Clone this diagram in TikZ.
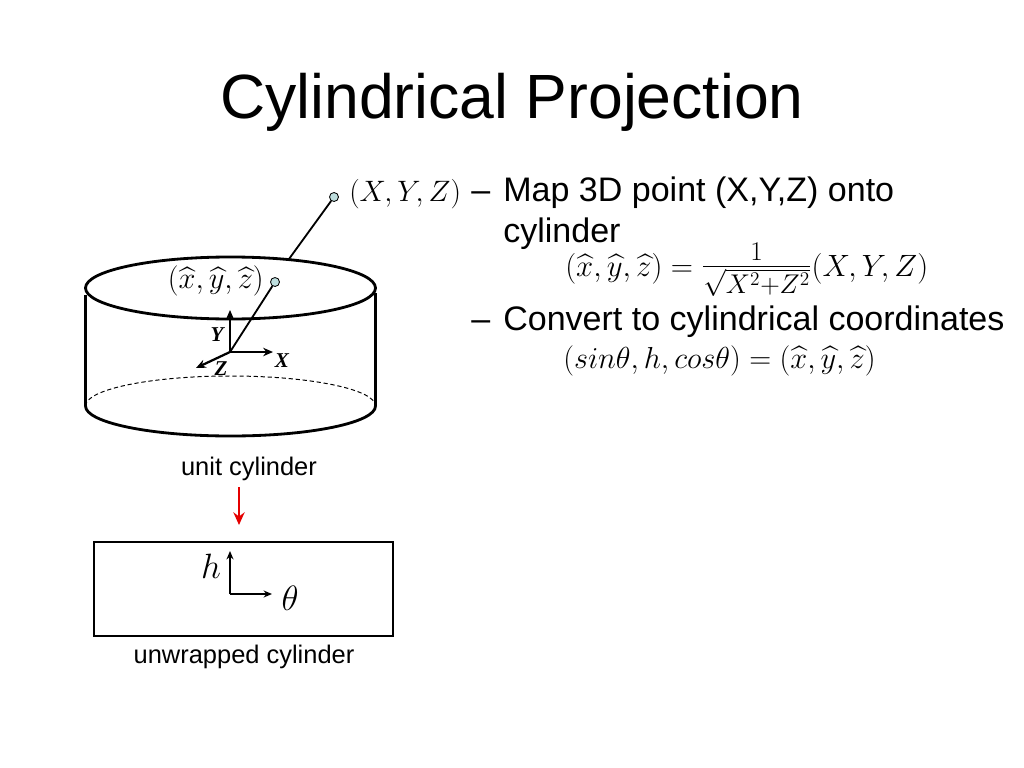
\documentclass[tikz,border=0pt]{standalone}
\usepackage{fix-cm}
\usepackage{amsmath}
\usepackage{fontspec}
\setmainfont{Liberation Sans}
\newfontfamily\axisfont{Liberation Serif}
\usepackage{tikz}
\usepackage{xcolor}
\usetikzlibrary{arrows.meta}
\usetikzlibrary{shapes.geometric}
\definecolor{dotfill}{RGB}{190,222,222}
\tikzset{
  heading/.style={font=\fontsize{44.45}{44}\selectfont,inner sep=0pt,anchor=base west},
  bullet/.style={font=\fontsize{24.2}{24}\selectfont,inner sep=0pt,anchor=base west},
  caption/.style={font=\fontsize{18.1}{18}\selectfont,inner sep=0pt,anchor=base},
  formula/.style={font=\fontsize{21.6}{21}\selectfont,inner sep=0pt,anchor=base west},
  axisname/.style={font=\axisfont\fontsize{15}{15}\selectfont\bfseries\itshape,inner sep=0pt},
  greekname/.style={font=\fontsize{25}{25}\selectfont,inner sep=0pt},
  rim/.style={line width=2pt},
  dot/.style={circle,draw,fill=dotfill,line width=.6pt,minimum size=6.4pt,inner sep=0pt},
  ray/.style={line width=1.3pt},
  axis/.style={line width=1.6pt,-{Stealth[length=7pt,width=6pt]}},
  flatarrow/.style={line width=1pt,-{Stealth[length=6pt,width=5pt]}}
}

\begin{document}
\begin{tikzpicture}[x=.025cm,y=-.025cm]
  \useasboundingbox (0,0) rectangle (1024,768);
  \fill[white] (0,0) rectangle (1024,768);

  \node (title) [heading] at (220,119) {Cylindrical Projection};

  \node (dashone) [bullet] at (471,201) {--};
  \node (mapline) [bullet] at (503,201) {Map 3D point (X,Y,Z) onto};
  \node (cylline) [bullet] at (503,242) {cylinder};
  \node (eqone) [formula,font=\fontsize{21.9}{21}\selectfont] at (565,276) {$(\widehat{x},\widehat{y},\widehat{z})=\mbox{\fontsize{27.5}{27}\selectfont$\frac{1}{\sqrt{X^2{+}Z^2}}$}(X,Y,Z)$};
  \node (dashtwo) [bullet] at (471,330) {--};
  \node (conv) [bullet] at (503,330) {Convert to cylindrical coordinates};
  \node (eqtwo) [formula] at (563,368.5) {$(sin\theta,h,cos\theta)=(\widehat{x},\widehat{y},\widehat{z})$};

  % cylinder
  \node (top) [rim,draw,ellipse,minimum width=290*.025cm,minimum height=62*.025cm,inner sep=0pt] at (230.5,288) {};
  \coordinate (bl) at (85.5,406);
  \coordinate (br) at (375.5,406);
  \draw[rim] (85.5,295) -- (bl);
  \draw[rim] (375.5,293) -- (br);
  \draw[rim] (bl) arc[start angle=180,end angle=360,x radius=145,y radius=-30];
  \draw[densely dashed,line width=.7pt] (bl) arc[start angle=180,end angle=0,x radius=145,y radius=-30];

  \node (far) [dot] at (334,197) {};
  \node (near) [dot] at (275,282) {};
  \coordinate (rimhit) at (289,259);
  \draw[ray] (far) -- (rimhit);
  \node (farname) [formula,anchor=west,font=\fontsize{21}{21}\selectfont] at (349,194.5) {$(X,Y,Z)$};
  \node (nearname) [formula,anchor=east] at (264,281) {$(\widehat{x},\widehat{y},\widehat{z})$};

  \coordinate (orig) at (230,352);
  \coordinate (ytip) at (230,310);
  \coordinate (xtip) at (273,352);
  \coordinate (ztip) at (196,368);
  \draw[ray] (orig) -- (near);
  \draw[axis] (orig) -- (ytip);
  \draw[axis] (orig) -- (xtip);
  \draw[axis] (orig) -- (ztip);
  \node (yname) [axisname] at (217,335) {Y};
  \node (xname) [axisname] at (282,361) {X};
  \node (zname) [axisname] at (221,369) {Z};

  \node (unit) [caption] at (249,475) {unit cylinder};
  \coordinate (redtop) at (239,487);
  \coordinate (redend) at (239,525);
  \draw[red!90!black,line width=1.9pt,-{Stealth[length=9pt,width=8pt]}] (redtop) -- (redend);

  % unwrapped
  \node (flat) [draw,line width=1.5pt,minimum width=299*.025cm,minimum height=94*.025cm,inner sep=0pt] at (243.5,589) {};
  \coordinate (corner) at (230,594);
  \coordinate (htip) at (230,551);
  \coordinate (ttip) at (272,594);
  \draw[flatarrow] (corner) -- (htip);
  \draw[flatarrow] (corner) -- (ttip);
  \node (hname) [greekname] at (211,566) {$h$};
  \node (tname) [greekname] at (290,598) {$\theta$};
  \node (unwrap) [caption] at (244,663) {unwrapped cylinder};
\end{tikzpicture}
\end{document}
